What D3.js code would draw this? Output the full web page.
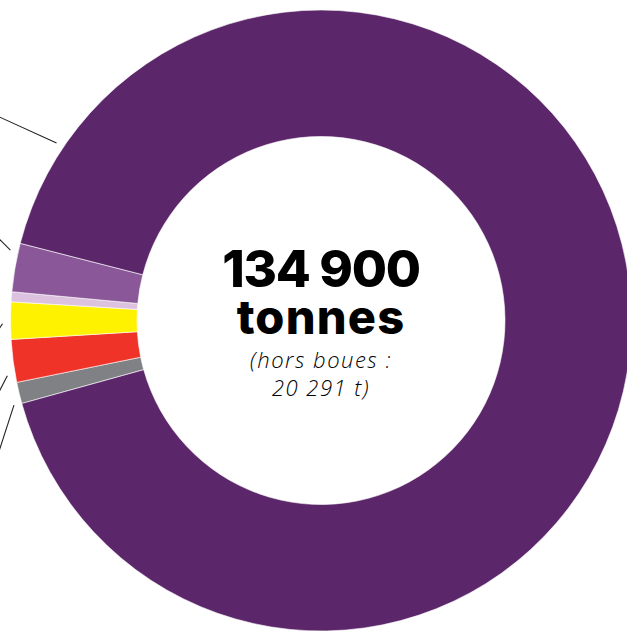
<!DOCTYPE html>
<html>
<head>
<meta charset="utf-8">
<script src="https://cdn.jsdelivr.net/npm/d3@7"></script>
<style>
  html, body { margin: 0; padding: 0; background: #fff; overflow: hidden; }
  svg { display: block; }
</style>
</head>
<body>
<svg id="chart" width="627" height="634"></svg>
<script>
// données (tonnes) - libellés hors cadre dans l'original
const categories = ['Autres', 'Catégorie rouge', 'Catégorie jaune', 'Catégorie rose', 'Catégorie mauve', 'Catégorie principale']
const values = [1500, 3000, 2600, 700, 3400, 123700]
const colors = ['#808184', '#ef3329', '#fff200', '#dcc2de', '#8a5799', '#5c266a']

const totalLabel = '134 900'
const unitLabel = 'tonnes'
const noteLines = ['(hors boues :', '20 291 t)']

// traits de rappel vers les libellés : part, position dans la part, direction, longueur
const leaders = [
  {key: 'Catégorie principale', t: 0.059, dir: 204.5, len: 110},
  {key: 'Catégorie mauve', t: 0.82, dir: 225, len: 40},
  {key: 'Catégorie jaune', t: 0.42, dir: 124, len: 40},
  {key: 'Catégorie rouge', t: 0.19, dir: 117, len: 40},
  {key: 'Autres', t: 0.02, dir: 108, len: 60},
]

const cx = 321
const cy = 320.5
const outerRadius = 310.5
const innerRadius = 184

const svg = d3.select('#chart')
const root = svg.append('g').attr('transform', `translate(${cx}, ${cy})`)

const data = categories.map((c, i) => ({label: c, value: values[i], color: colors[i]}))

const deg = Math.PI / 180
const startAngle = 254.5 * deg
const pie = d3.pie()
  .sort(null)
  .value((d) => d.value)
  .startAngle(startAngle)
  .endAngle(startAngle + 2 * Math.PI)

const arcs = pie(data)
const arc = d3.arc().innerRadius(innerRadius).outerRadius(outerRadius)

root.selectAll('path.slice')
  .data(arcs)
  .join('path')
  .attr('class', 'slice')
  .attr('d', arc)
  .attr('fill', (d) => d.data.color)
  .attr('stroke', '#fff')
  .attr('stroke-width', 0.6)

// traits de rappel
const leaderR = outerRadius + 8
root.selectAll('line.leader')
  .data(leaders)
  .join('line')
  .attr('class', 'leader')
  .each(function (l) {
    const a = arcs.find((d) => d.data.label === l.key)
    const ang = a.startAngle + (a.endAngle - a.startAngle) * l.t
    const x1 = leaderR * Math.sin(ang)
    const y1 = -leaderR * Math.cos(ang)
    const x2 = x1 + l.len * Math.cos(l.dir * deg)
    const y2 = y1 + l.len * Math.sin(l.dir * deg)
    d3.select(this).attr('x1', x1).attr('y1', y1).attr('x2', x2).attr('y2', y2)
  })
  .attr('stroke', '#231f20')
  .attr('stroke-width', 1.1)

// texte central
const center = root.append('g').attr('text-anchor', 'middle').attr('fill', '#000')

const title = center.append('text')
  .attr('font-family', 'Inter, "Noto Sans", sans-serif')
  .attr('font-weight', 800)

title.append('tspan')
  .attr('x', 0)
  .attr('y', -34)
  .attr('font-size', 51)
  .attr('letter-spacing', -1.3)
  .text(totalLabel)

title.append('tspan')
  .attr('x', 0)
  .attr('y', 13.5)
  .attr('font-size', 47)
  .attr('letter-spacing', 1.2)
  .text(unitLabel)

center.append('text')
  .attr('font-family', '"Open Sans", sans-serif')
  .attr('font-style', 'italic')
  .attr('font-weight', 300)
  .attr('font-size', 22)
  .attr('letter-spacing', 1.5)
  .selectAll('tspan')
  .data(noteLines)
  .join('tspan')
  .attr('x', 0)
  .attr('y', (d, i) => 47.5 + i * 28)
  .text((d) => d)
</script>
</body>
</html>
